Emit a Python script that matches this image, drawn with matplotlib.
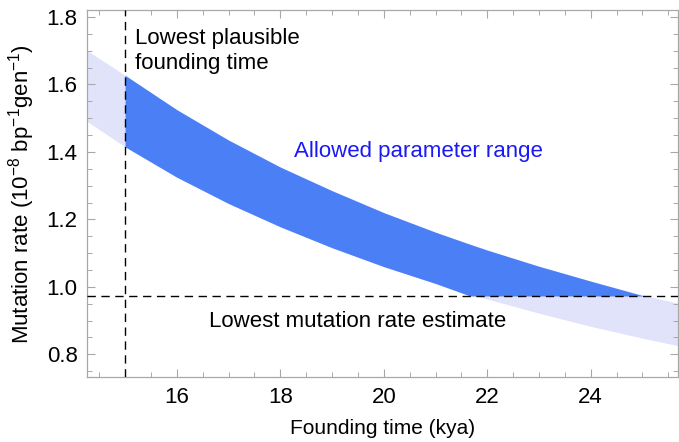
import numpy as np
import matplotlib
matplotlib.use("Agg")
import matplotlib.pyplot as plt
from matplotlib.ticker import MultipleLocator

plt.rcParams.update({
    "font.family": ["Liberation Sans", "DejaVu Sans"],
    "mathtext.fontset": "custom",
    "mathtext.rm": "Liberation Sans",
    "mathtext.it": "Liberation Sans",
})

# ---- data
band_x = [14.27, 15, 16, 17, 18, 19, 20, 21, 22, 23, 24, 25, 25.68]
band_top = [1.70, 1.627, 1.525, 1.435, 1.355, 1.285, 1.22, 1.162, 1.109,
            1.061, 1.017, 0.976, 0.952]
band_bot = [1.49, 1.415, 1.325, 1.247, 1.178, 1.116, 1.06, 1.01, 0.964,
            0.922, 0.883, 0.848, 0.826]

ok_x = [15, 16, 17, 18, 19, 20, 21, 21.67, 22, 23, 24, 25.03]
ok_top = [1.627, 1.525, 1.435, 1.355, 1.285, 1.22, 1.162, 1.126, 1.109,
          1.061, 1.017, 0.973]
ok_bot = [1.415, 1.325, 1.247, 1.178, 1.116, 1.06, 1.01, 0.973, 0.973,
          0.973, 0.973, 0.973]

T_MIN = 15.0      # lowest plausible founding time
MU_MIN = 0.973    # lowest mutation rate estimate

LIGHT = "#e1e3fb"
DARK = "#4b7ff6"
TEXTBLUE = "#1a1af5"
FRAME = "#a8a8a8"
FS = 16

fig = plt.figure(figsize=(6.79, 4.42), dpi=100)
ax = fig.add_axes([0.1286, 0.1464, 0.8694, 0.8306])

ax.fill_between(band_x, band_bot, band_top, color=LIGHT, lw=0, zorder=1)
ax.fill_between(ok_x, ok_bot, ok_top, color=DARK, lw=0, zorder=2)

ax.axvline(T_MIN, color="k", ls=(0, (6, 4)), lw=1.0, zorder=3)
ax.axhline(MU_MIN, color="k", ls=(0, (6, 4)), lw=1.0, zorder=3)

ax.text(15.2, 1.70, "Lowest plausible\nfounding time", fontsize=FS,
        ha="left", va="center", linespacing=1.25)
ax.text(20.67, 1.40, "Allowed parameter range", fontsize=FS,
        color=TEXTBLUE, ha="center", va="center")
ax.text(19.5, 0.896, "Lowest mutation rate estimate", fontsize=FS,
        ha="center", va="center")

ax.set_xlim(14.27, 25.68)
ax.set_ylim(0.732, 1.82)
ax.xaxis.set_major_locator(MultipleLocator(2))
ax.xaxis.set_minor_locator(MultipleLocator(0.5))
ax.yaxis.set_major_locator(MultipleLocator(0.2))
ax.yaxis.set_minor_locator(MultipleLocator(0.05))
ax.yaxis.set_major_formatter(plt.FuncFormatter(lambda v, p: f"{v:.1f}"))

for s in ax.spines.values():
    s.set_color(FRAME)
    s.set_linewidth(0.9)
ax.tick_params(which="both", direction="in", top=True, right=True,
               color=FRAME, labelsize=FS, pad=7)
ax.tick_params(which="major", length=6, width=0.8)
ax.tick_params(which="minor", length=3.5, width=0.7)

ax.set_xlabel("Founding time (kya)", fontsize=15, labelpad=8)
ax.set_ylabel("Mutation rate (10$^{-8}$ bp$^{-1}$gen$^{-1}$)",
              fontsize=16, labelpad=7)

fig.savefig("out.png", dpi=100)
